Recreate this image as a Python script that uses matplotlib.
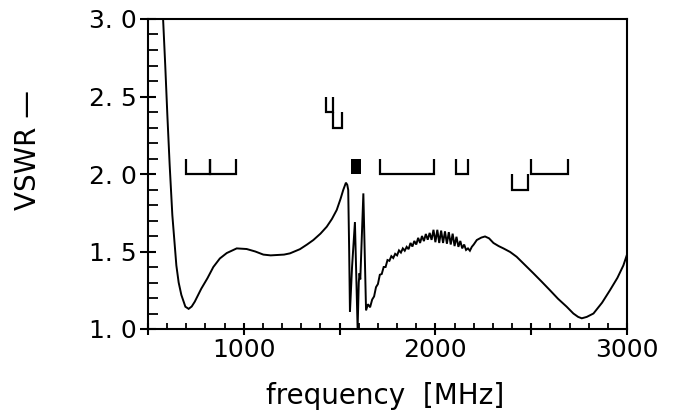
import matplotlib
matplotlib.use("Agg")
import matplotlib.pyplot as plt

# ---- data ----
freq_main = [575, 590, 601, 613, 627, 648, 660, 674, 695, 712, 728, 744, 778, 810, 841, 875,
             911, 963, 1015, 1060, 1102, 1140, 1172, 1210, 1241, 1293, 1330, 1363, 1400, 1433,
             1460, 1485, 1505, 1519, 1533, 1540, 1545, 1550, 1554, 1565, 1580, 1587, 1594,
             1600, 1604, 1608, 1624, 1631, 1638, 1648, 1659]
vswr_main = [3.10, 2.70, 2.38, 2.06, 1.735, 1.41, 1.30, 1.22, 1.144, 1.13, 1.145, 1.176, 1.26,
             1.327, 1.40, 1.455, 1.49, 1.52, 1.516, 1.50, 1.48, 1.475, 1.477, 1.48, 1.488,
             1.515, 1.545, 1.574, 1.615, 1.66, 1.71, 1.768, 1.84, 1.897, 1.944, 1.93, 1.897,
             1.50, 1.11, 1.40, 1.69, 1.35, 1.00, 1.30, 1.36, 1.32, 1.875, 1.50, 1.12, 1.16, 1.14]

freq_noisy = [1670, 1680, 1690, 1700, 1710, 1720, 1730, 1740, 1750, 1760, 1770, 1780, 1790,
              1800, 1810, 1820, 1830, 1840, 1850, 1860, 1870, 1880, 1890, 1900, 1910, 1920,
              1930, 1940, 1950, 1960, 1970, 1980, 1990, 2000, 2010, 2020, 2030, 2040, 2050,
              2060, 2070, 2080, 2090, 2100, 2110, 2120, 2130, 2140, 2150, 2160, 2170, 2180, 2190]
vswr_noisy = [1.19, 1.21, 1.27, 1.29, 1.35, 1.355, 1.40, 1.40, 1.445, 1.44, 1.47, 1.458, 1.485,
              1.475, 1.507, 1.493, 1.52, 1.505, 1.53, 1.515, 1.555, 1.532, 1.568, 1.545, 1.588,
              1.555, 1.60, 1.567, 1.613, 1.576, 1.62, 1.575, 1.64, 1.56, 1.64, 1.555, 1.635,
              1.555, 1.63, 1.55, 1.625, 1.545, 1.615, 1.535, 1.595, 1.53, 1.568, 1.52, 1.545,
              1.51, 1.52, 1.505, 1.53]

freq_tail = [2200, 2216, 2240, 2259, 2280, 2303, 2330, 2355, 2390, 2424, 2470, 2511, 2555,
             2598, 2640, 2685, 2720, 2745, 2764, 2790, 2825, 2870, 2911, 2950, 2981, 3000]
vswr_tail = [1.545, 1.574, 1.59, 1.597, 1.585, 1.555, 1.535, 1.52, 1.497, 1.466, 1.41, 1.36,
             1.305, 1.25, 1.195, 1.144, 1.10, 1.078, 1.069, 1.078, 1.10, 1.17, 1.25, 1.33,
             1.41, 1.48]

# frequency bands drawn as brackets: (start, end, bottom, top)
band_start = [698, 824, 1710, 2110, 2500, 2400, 1427, 1467]
band_end   = [824, 960, 1995, 2170, 2690, 2483, 1467, 1511]
band_low   = [2.0, 2.0, 2.0, 2.0, 2.0, 1.9, 2.4, 2.3]
band_high  = [2.1, 2.1, 2.1, 2.1, 2.1, 2.0, 2.5, 2.4]
# filled band (GNSS)
fill_start, fill_end, fill_low, fill_high = 1559, 1610, 2.0, 2.1

y_ticks = [1.0, 1.5, 2.0, 2.5, 3.0]
y_ticklabels = ["1. 0", "1. 5", "2. 0", "2. 5", "3. 0"]
x_ticks = [500, 1000, 1500, 2000, 2500, 3000]
x_ticklabels = ["", "1000", "", "2000", "", "3000"]

# ---- figure ----
fig = plt.figure(figsize=(6.75, 4.18), dpi=100)
ax = fig.add_axes([148/675, 1-329/418, (627-148)/675, (329-19)/418])

freq = freq_main + freq_noisy + freq_tail
vswr = vswr_main + vswr_noisy + vswr_tail
ax.plot(freq, vswr, color="black", lw=1.4, solid_joinstyle="miter")

for s, e, lo, hi in zip(band_start, band_end, band_low, band_high):
    ax.plot([s, s, e, e], [hi, lo, lo, hi], color="black", lw=1.6,
            solid_joinstyle="miter", solid_capstyle="butt")
ax.fill_between([fill_start, fill_end], fill_low, fill_high, color="black", lw=0)

ax.set_xlim(500, 3000)
ax.set_ylim(1.0, 3.0)

for sp in ax.spines.values():
    sp.set_linewidth(1.5)

ax.set_xticks(x_ticks)
ax.set_xticklabels(x_ticklabels, fontsize=18)
ax.set_yticks(y_ticks)
ax.set_yticklabels(y_ticklabels, fontsize=18)
ax.set_xticks(range(500, 3001, 100), minor=True)
ax.set_yticks([1.0 + 0.1*i for i in range(21)], minor=True)
ax.tick_params(axis="x", which="major", direction="inout", length=9, width=1.5, pad=2)
ax.tick_params(axis="x", which="minor", direction="in", length=4, width=1.3)
ax.tick_params(axis="y", which="major", direction="inout", length=12, width=1.5, pad=2)
ax.tick_params(axis="y", which="minor", direction="in", length=7, width=1.3)
ax.tick_params(top=False, right=False)

fig.text((263+508)/2/675, 1-396/418, "frequency  [MHz]", fontsize=20,
         ha="center", va="center")
fig.text(28/675, 1-150/418, "VSWR —", fontsize=20, rotation=90,
         ha="center", va="center")

fig.savefig("out.png", dpi=100)
